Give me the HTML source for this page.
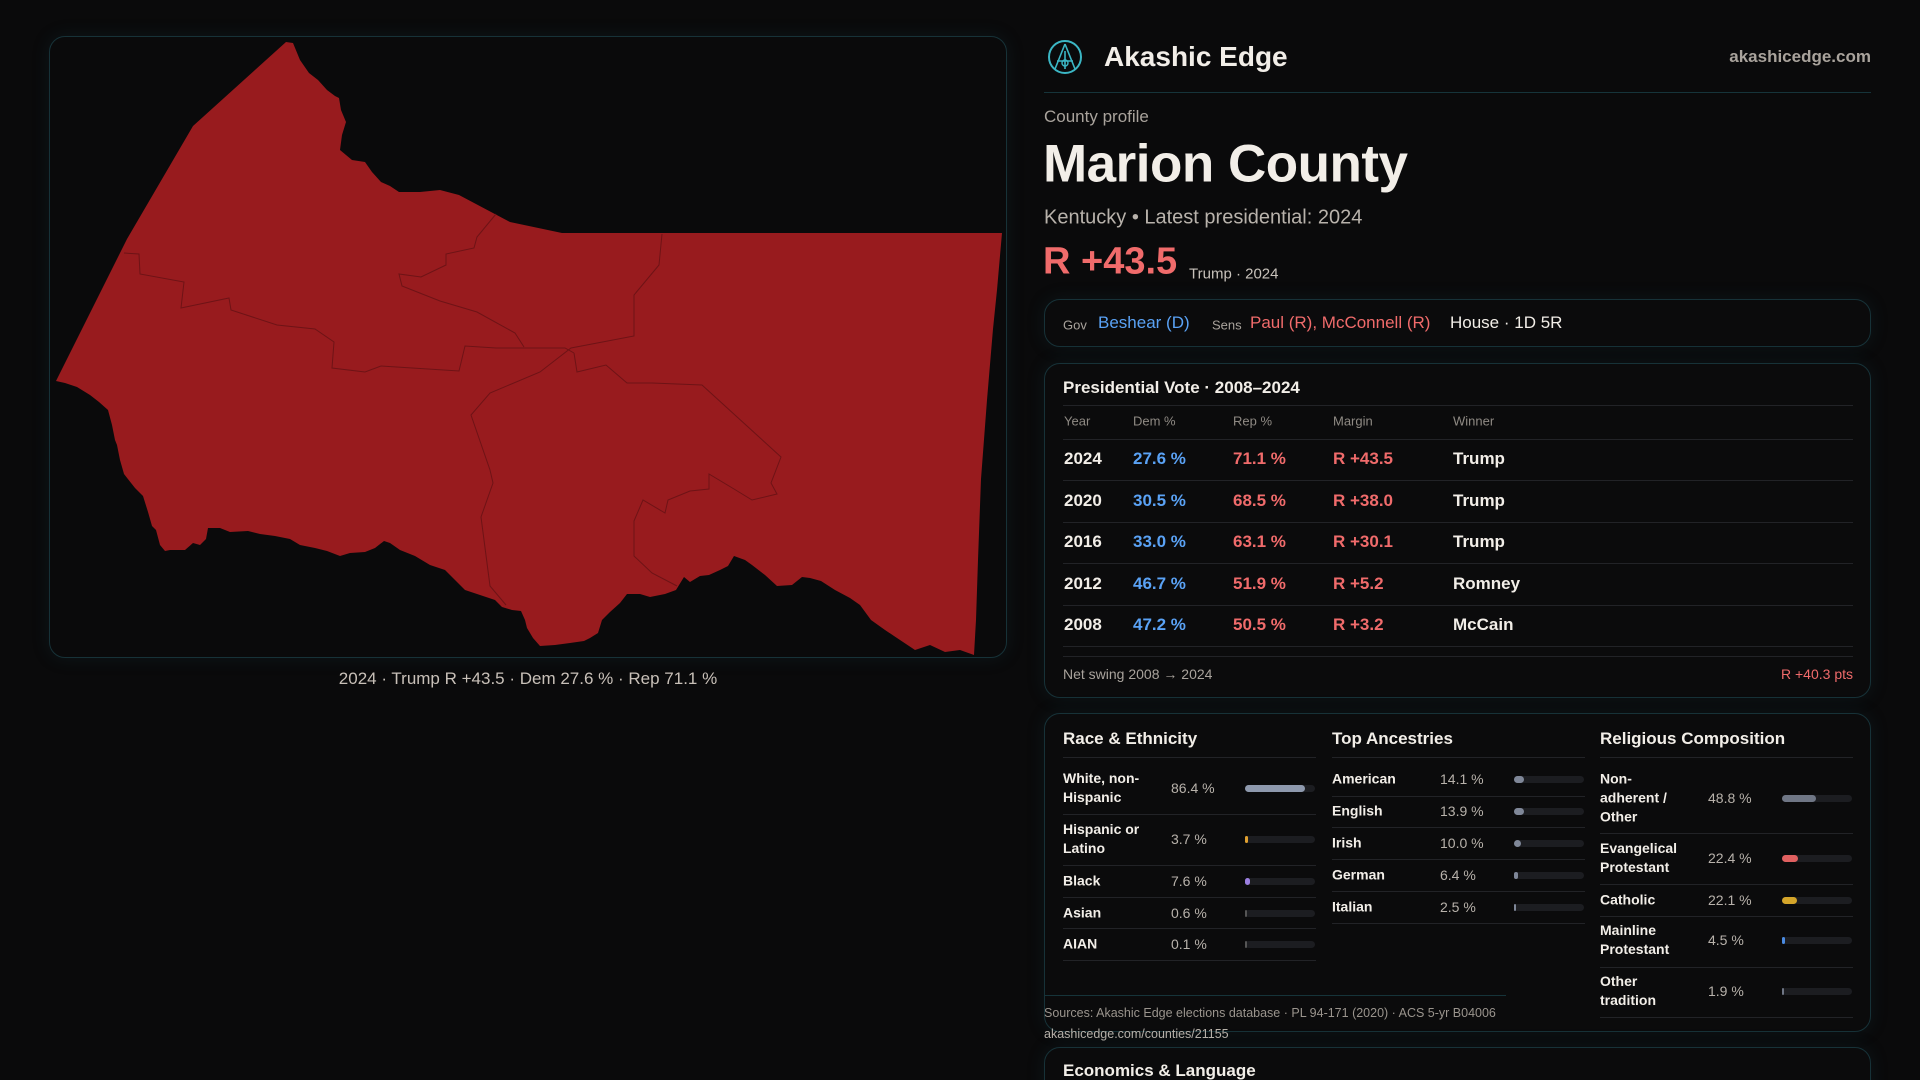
<!DOCTYPE html>
<html><head><meta charset="utf-8"><style>
*{box-sizing:border-box;margin:0;padding:0}
html,body{width:1920px;height:1080px;overflow:hidden;background:#0a0a0b}
body{font-family:"Liberation Sans",sans-serif;color:#f2eee8}
#root{position:relative;width:1920px;height:1080px;overflow:hidden;background:#0a0a0b}
.abs{position:absolute;white-space:nowrap}
.card{position:absolute;border:1px solid #173238;border-radius:16px;background:#0b0b0c;box-shadow:0 0 18px rgba(30,80,90,.18)}
.hl{position:absolute;height:1px;background:#222327}
.muted{color:#a9a39c}
.blue{color:#5aa2f5}.red{color:#f06b6b}
.vc{transform:translateY(-50%)}
.b{font-weight:bold}
.track{position:absolute;height:7px;border-radius:4px;background:#1c1d21}
.fill{position:absolute;left:0;top:0;height:7px;border-radius:4px}
</style></head><body>
<div id="root">
<div class="card" style="left:49px;top:36px;width:958px;height:622px;background:#0a0a0b"></div>
<svg class="abs" style="left:0;top:0" width="1920" height="1080">
<path fill="#981b1e" d="M286,42 L293,43 L300,60 L309,73 L318,80 L327,90 L335,96 L339,98 L341,110 L346,122 L342,135 L340,150 L352,160 L365,162 L372,172 L381,182 L390,186 L399,192 L420,192 L440,190 L459,195 L510,222 L562,233 L1002,233 L997,290 L993,329 L987,400 L981,479 L978,560 L976,620 L974,655 L960,650 L945,652 L930,645 L915,650 L900,640 L885,630 L871,620 L860,605 L850,598 L835,590 L821,581 L810,578 L802,577 L792,585 L777,586 L765,575 L752,565 L745,560 L734,556 L728,566 L720,570 L709,575 L700,576 L690,582 L684,577 L676,590 L665,594 L650,597 L640,594 L627,594 L620,603 L610,612 L602,620 L598,633 L590,638 L584,641 L570,643 L555,645 L540,646 L533,638 L527,628 L525,620 L521,611 L512,610 L502,607 L495,600 L480,595 L465,590 L455,580 L445,570 L430,565 L415,556 L400,550 L390,543 L384,541 L375,548 L365,552 L350,553 L340,556 L327,551 L315,548 L300,545 L290,539 L275,536 L260,534 L248,531 L230,532 L220,528 L208,528 L206,539 L200,545 L193,543 L185,550 L170,550 L165,551 L160,545 L156,530 L152,526 L148,512 L143,496 L135,488 L124,474 L120,460 L117,445 L115,440 L112,425 L108,410 L99,402 L90,395 L77,387 L65,383 L56,381 L127,239 L193,126 Z"/>
<g fill="none" stroke="#6e1316" stroke-width="1">
<polyline points="124,253 139,254 140,274 184,282 181,308 229,298 231,310 277,325 315,329 334,342 332,368 365,372 381,366 459,371 465,346 496,348 565,348 574,353"/>
<polyline points="496,214 477,237 474,248 446,254 446,265 421,277 399,274 402,286 440,301 477,312 515,333 524,347"/>
<polyline points="662,234 659,265 634,295 634,336 571,348 540,372 490,393 471,415 490,470 493,483 481,517 490,586 506,605"/>
<polyline points="574,353 577,372 606,365 627,383 652,383 702,385 781,457 771,483 777,494 752,500 734,489 709,474 709,489 690,491 668,500 665,513 643,500 634,521 634,556 652,573 677,586"/>
</g>
</svg>
<div class="abs" style="left:528px;top:679px;transform:translate(-50%,-50%);font-size:17px;color:#c8c0b8">2024 · Trump R +43.5 · Dem 27.6 % · Rep 71.1 %</div>

<svg class="abs" style="left:1047px;top:39px" width="36" height="36" viewBox="0 0 36 36"><circle cx="18" cy="18" r="16" fill="none" stroke="#3bb6c4" stroke-width="2"/><path d="M18 5 L8 30 M18 5 L28 30 M10 22 L26 22 M18 12 L18 30" stroke="#3bb6c4" stroke-width="1.6" fill="none"/><circle cx="18" cy="24" r="3" fill="none" stroke="#3bb6c4" stroke-width="1.4"/></svg>
<div class="abs vc b" style="left:1104px;top:57px;font-size:28px">Akashic Edge</div>
<div class="abs vc b muted" style="right:49px;top:57px;font-size:17px">akashicedge.com</div>
<div class="hl" style="left:1044px;top:92px;width:827px;background:#16343a"></div>
<div class="abs vc muted" style="left:1044px;top:117px;font-size:17px">County profile</div>
<div class="abs vc b" style="left:1043px;top:164px;font-size:53px;letter-spacing:-0.5px">Marion County</div>
<div class="abs vc muted" style="left:1044px;top:218px;font-size:20px;color:#b8b2ab">Kentucky • Latest presidential: 2024</div>
<div class="abs vc b red" style="left:1043px;top:262px;font-size:38px">R +43.5</div>
<div class="abs vc" style="left:1189px;top:274px;font-size:15px;color:#c8c2bb">Trump · 2024</div>

<div class="card" style="left:1044px;top:299px;width:827px;height:48px"></div>
<div class="abs vc muted" style="left:1063px;top:325px;font-size:13px">Gov</div>
<div class="abs vc blue" style="left:1098px;top:323px;font-size:17px">Beshear (D)</div>
<div class="abs vc muted" style="left:1212px;top:325px;font-size:13px">Sens</div>
<div class="abs vc red" style="left:1250px;top:323px;font-size:17px">Paul (R), McConnell (R)</div>
<div class="abs vc" style="left:1450px;top:323px;font-size:17px">House · 1D 5R</div>

<div class="card" style="left:1044px;top:363px;width:827px;height:335px"></div>
<div class="abs vc b" style="left:1063px;top:388px;font-size:17px">Presidential Vote · 2008–2024</div>
<div id="pres"></div>

<div class="card" style="left:1044px;top:713px;width:827px;height:319px"></div>
<div id="demo"></div>
<div class="hl" style="left:1044px;top:995px;width:462px;background:#16343a"></div>
<div class="abs vc muted" style="left:1044px;top:1013px;font-size:12.5px;color:#9a948d">Sources: Akashic Edge elections database · PL 94-171 (2020) · ACS 5-yr B04006</div>
<div class="abs vc" style="left:1044px;top:1034px;font-size:12.5px;color:#b8b2ab">akashicedge.com/counties/21155</div>
<div class="card" style="left:1044px;top:1047px;width:827px;height:80px"></div>
<div class="abs vc b" style="left:1063px;top:1071px;font-size:17px">Economics &amp; Language</div>
</div>
<script>
const years=['2024','2020','2016','2012','2008'];
const demPct=[27.6,30.5,33.0,46.7,47.2];
const repPct=[71.1,68.5,63.1,51.9,50.5];
const margins=[43.5,38.0,30.1,5.2,3.2];
const winners=['Trump','Trump','Trump','Romney','McCain'];
const netSwing=40.3;
const raceLabels=['White, non-|Hispanic','Hispanic or|Latino','Black','Asian','AIAN'];
const raceVals=[86.4,3.7,7.6,0.6,0.1];
const ancLabels=['American','English','Irish','German','Italian'];
const ancVals=[14.1,13.9,10.0,6.4,2.5];
const relLabels=['Non-|adherent /|Other','Evangelical|Protestant','Catholic','Mainline|Protestant','Other|tradition'];
const relVals=[48.8,22.4,22.1,4.5,1.9];

function mk(parent,cls,style,html){const d=document.createElement('div');d.className=cls;d.style.cssText=style;if(html!==undefined)d.innerHTML=html;parent.appendChild(d);return d;}
const pres=document.getElementById('pres');
const cols=[1064,1133,1233,1333,1453];
['Year','Dem %','Rep %','Margin','Winner'].forEach((h,i)=>{
  const e=mk(pres,'abs vc muted',`left:${cols[i]}px;top:421px;font-size:13px;color:#8f8a84`,h);
  
  
});
let ln=mk(pres,'hl','left:1063px;top:405px;width:790px');


ln=mk(pres,'hl','left:1063px;top:439px;width:790px');


const rowY=i=>459+i*41.5;
years.forEach((y,i)=>{
  const cy=rowY(i);
  const cells=[[y,''],[demPct[i].toFixed(1)+' %','blue'],[repPct[i].toFixed(1)+' %','red'],['R +'+margins[i].toFixed(1),'red'],[winners[i],'']];
  cells.forEach((c,j)=>{
    const e=mk(pres,'abs vc b '+c[1],`left:${cols[j]}px;top:${cy}px;font-size:17px`,c[0]);
    
    
  });
  const l=mk(pres,'hl',`left:1063px;top:${cy+21}px;width:790px`);
  
  
});
ln=mk(pres,'hl','left:1063px;top:656px;width:790px');


let e=mk(pres,'abs vc muted','left:1063px;top:674px;font-size:14px','Net swing 2008 → 2024');


e=mk(pres,'abs vc red','right:67px;top:674px;font-size:14px','R +'+netSwing.toFixed(1)+' pts');



const demo=document.getElementById('demo');
function section(title,x,labels,vals,colors,ys,lines){
  const t=mk(demo,'abs vc b',`left:${x}px;top:739px;font-size:17px`,title);
  
  
  let l=mk(demo,'hl',`left:${x}px;top:757px;width:253px`);
  
  
  labels.forEach((lab,i)=>{
    const a=mk(demo,'abs vc b',`left:${x}px;top:${ys[i]}px;font-size:14px;line-height:19px`,lab.split('|').join('<br>'));
    
    
    const v=mk(demo,'abs vc',`left:${x+108}px;top:${ys[i]}px;font-size:14px;color:#b8b2ab`,vals[i].toFixed(1)+' %');
    
    
    const tr=mk(demo,'track',`left:${x+182}px;top:${ys[i]-3}px;width:70px`);
    
    
    const f=mk(tr,'fill',`width:${Math.max(2,vals[i]/100*70)}px;background:${colors[i]}`);
    
    
    const r=mk(demo,'hl',`left:${x}px;top:${lines[i]}px;width:253px`);
    
    
  });
}
section('Race & Ethnicity',1063,raceLabels,raceVals,['#8e99ad','#e0a030','#9b7fe0','#555','#555'],[788,839,881,913,944],[814,865,897,928,960]);
section('Top Ancestries',1332,ancLabels,ancVals,['#7f8798','#7f8798','#7f8798','#7f8798','#7f8798'],[779,811,843,875,907],[796,827,859,891,923]);
section('Religious Composition',1600,relLabels,relVals,['#6f7685','#e06060','#d4a52a','#4a8ae0','#6f7685'],[798,858,900,940,991],[833,884,916,967,1017]);
</script>
</body></html>
